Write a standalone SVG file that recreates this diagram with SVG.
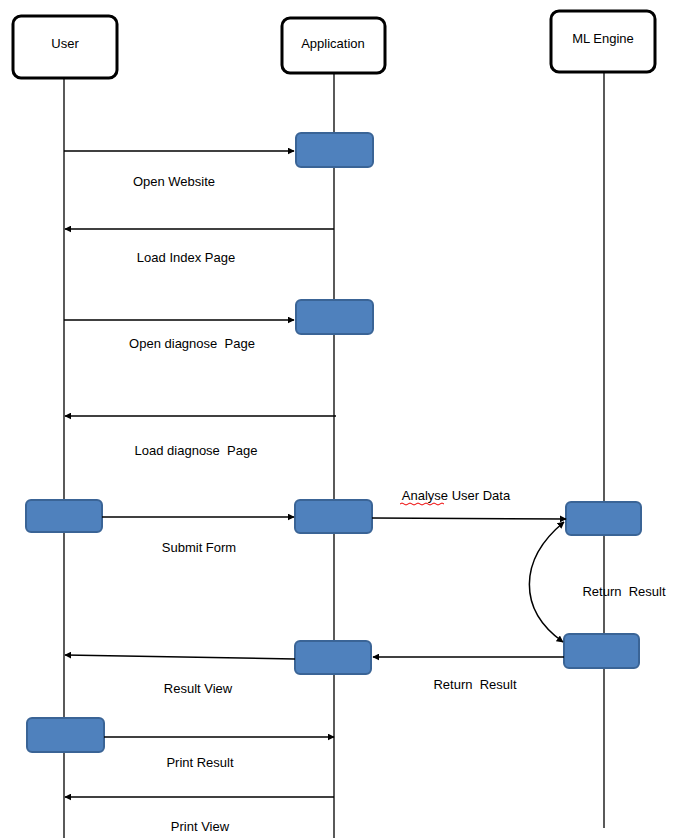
<svg xmlns="http://www.w3.org/2000/svg" width="678" height="838" viewBox="0 0 678 838">
<style>
.hdr{fill:#fff;stroke:#000;stroke-width:3}
.act{fill:#4F81BD;stroke:#3A6496;stroke-width:2}
.life{stroke:#000;stroke-width:1.3;fill:none}
.msg{stroke:#000;stroke-width:1.5;fill:none}
text{font-family:"Liberation Sans",Arial,sans-serif;font-size:13px;fill:#000;text-anchor:middle;white-space:pre}
</style>
<defs>
<marker id="ah" viewBox="0 0 10 10" refX="9" refY="5" markerWidth="7" markerHeight="7" orient="auto-start-reverse" markerUnits="userSpaceOnUse">
<path d="M0,0 L10,5 L0,10 z" fill="#000"/>
</marker>
</defs>
<g id="lifelines">
<line class="life" x1="64" y1="78" x2="64" y2="838"/>
<line class="life" x1="334" y1="72" x2="334" y2="838"/>
<line class="life" x1="604" y1="72" x2="604" y2="828"/>
</g>
<g id="user"><rect class="hdr" x="13" y="16" width="104" height="62" rx="8"/><text x="65" y="48">User</text></g>
<g id="application"><rect class="hdr" x="282" y="18" width="103" height="55" rx="8"/><text x="333" y="48">Application</text></g>
<g id="ml-engine"><rect class="hdr" x="551" y="11" width="104" height="61" rx="8"/><text x="603" y="43">ML Engine</text></g>
<g id="activations">
<rect class="act" x="296" y="133" width="77" height="34" rx="5"/>
<rect class="act" x="296" y="300" width="77" height="34" rx="5"/>
<rect class="act" x="26" y="500" width="76" height="32" rx="5"/>
<rect class="act" x="295" y="500" width="77" height="33" rx="5"/>
<rect class="act" x="566" y="502" width="75" height="33" rx="5"/>
<rect class="act" x="564" y="634" width="75" height="34" rx="5"/>
<rect class="act" x="295" y="641" width="76" height="33" rx="5"/>
<rect class="act" x="27" y="718" width="77" height="34" rx="5"/>
</g>
<g id="connectors">
<line class="msg" x1="64" y1="151" x2="294" y2="151" marker-end="url(#ah)"/>
<line class="msg" x1="334" y1="229" x2="65" y2="229" marker-end="url(#ah)"/>
<line class="msg" x1="64" y1="320" x2="294" y2="320" marker-end="url(#ah)"/>
<line class="msg" x1="336" y1="416" x2="65" y2="416" marker-end="url(#ah)"/>
<line class="msg" x1="102" y1="517" x2="294" y2="517" marker-end="url(#ah)"/>
<line class="msg" x1="372" y1="518" x2="566" y2="519" marker-end="url(#ah)"/>
<path class="msg" d="M564,522 C518,560 518,610 563,642" marker-start="url(#ah)" marker-end="url(#ah)"/>
<line class="msg" x1="564" y1="657" x2="373" y2="657" marker-end="url(#ah)"/>
<line class="msg" x1="295" y1="659" x2="65" y2="655" marker-end="url(#ah)"/>
<line class="msg" x1="104" y1="737" x2="334" y2="737" marker-end="url(#ah)"/>
<line class="msg" x1="334" y1="797" x2="65" y2="797" marker-end="url(#ah)"/>
</g>
<g id="labels">
<text x="174" y="186">Open Website</text>
<text x="186" y="262">Load Index Page</text>
<text x="192" y="348" xml:space="preserve">Open diagnose  Page</text>
<text x="196" y="455" xml:space="preserve">Load diagnose  Page</text>
<text x="199" y="552">Submit Form</text>
<text x="456" y="500">Analyse User Data</text>
<path d="M400,504 q2,-2 4,0 t4,0 t4,0 t4,0 t4,0 t4,0 t4,0 t4,0 t4,0 t4,0 t4,0" fill="none" stroke="#e00" stroke-width="1"/>
<text x="624" y="596" xml:space="preserve">Return  Result</text>
<text x="475" y="689" xml:space="preserve">Return  Result</text>
<text x="198" y="693">Result View</text>
<text x="200" y="767">Print Result</text>
<text x="200" y="831">Print View</text>
</g>
</svg>
